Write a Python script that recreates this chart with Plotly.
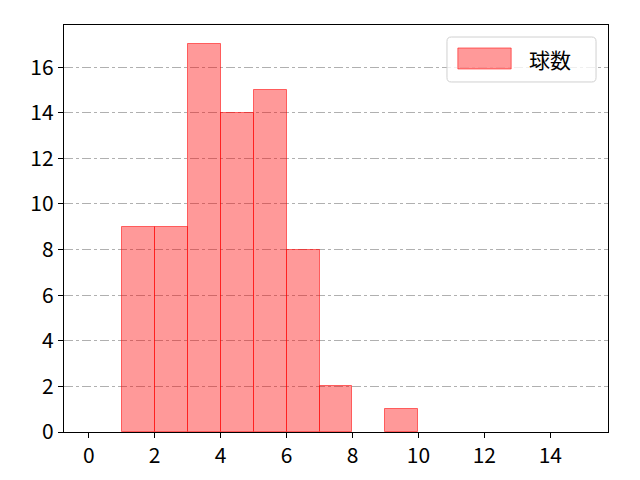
import plotly.graph_objects as go

# histogram bins (left edges) and counts
bin_left = [0, 1, 2, 3, 4, 5, 6, 7, 8, 9, 10, 11, 12, 13, 14]
counts = [0, 9, 9, 17, 14, 15, 8, 2, 0, 1, 0, 0, 0, 0, 0]
series_name = "球数"

x_ticks = [0, 2, 4, 6, 8, 10, 12, 14]
y_ticks = [0, 2, 4, 6, 8, 10, 12, 14, 16]

FONT = "Noto Sans CJK JP"
BAR_FILL = "rgba(255,0,0,0.4)"
BAR_EDGE = "rgba(255,0,0,0.55)"

centers = [b + 0.5 for b in bin_left]
# no outline on empty bins (matplotlib draws nothing there)
edge_widths = [1 if c > 0 else 0 for c in counts]

fig = go.Figure()
fig.add_trace(go.Bar(
    x=centers, y=counts, width=1, name=series_name,
    marker=dict(color=BAR_FILL, line=dict(color=BAR_EDGE, width=edge_widths)),
    showlegend=False,
))

axis_common = dict(
    showline=True, linecolor="black", linewidth=1.3, mirror=True,
    ticks="outside", ticklen=5, tickwidth=1.2, tickcolor="black",
    zeroline=False, tickfont=dict(family=FONT, size=21, color="black"),
)
fig.update_xaxes(range=[-0.75, 15.75], tickvals=x_ticks, showgrid=False, **axis_common)
fig.update_yaxes(range=[0, 17.85], tickvals=y_ticks, showgrid=True,
                 gridcolor="#b0b0b0", griddash="dashdot", gridwidth=0.8, **axis_common)

# matplotlib-like legend box, drawn by hand so the patch is wide
x0, x1, y0, y1, r = 0.704, 0.978, 0.860, 0.9705, 0.008
ry = r * 544 / 407
path = (f"M {x0+r},{y0} L {x1-r},{y0} Q {x1},{y0} {x1},{y0+ry} L {x1},{y1-ry} "
        f"Q {x1},{y1} {x1-r},{y1} L {x0+r},{y1} Q {x0},{y1} {x0},{y1-ry} "
        f"L {x0},{y0+ry} Q {x0},{y0} {x0+r},{y0} Z")
fig.add_shape(type="path", path=path, xref="paper", yref="paper",
              fillcolor="rgba(255,255,255,0.8)", line=dict(color="#d0d0d0", width=1))
fig.add_shape(type="rect", xref="paper", yref="paper", x0=0.724, x1=0.822, y0=0.892, y1=0.9435,
              fillcolor=BAR_FILL, line=dict(color=BAR_EDGE, width=1))
fig.add_annotation(text=series_name, xref="paper", yref="paper", x=0.852, y=0.9165,
                   xanchor="left", yanchor="middle", showarrow=False,
                   font=dict(family=FONT, size=21, color="black"))

fig.update_layout(
    width=640, height=480,
    margin=dict(l=64, r=32, t=25, b=48),
    plot_bgcolor="white", paper_bgcolor="white",
    bargap=0,
)

# the page body has a default 8px margin; drop it so the figure sits at 0,0
fig.write_html("out.html", config={"displayModeBar": False},
               post_script="document.body.style.margin='0';")
